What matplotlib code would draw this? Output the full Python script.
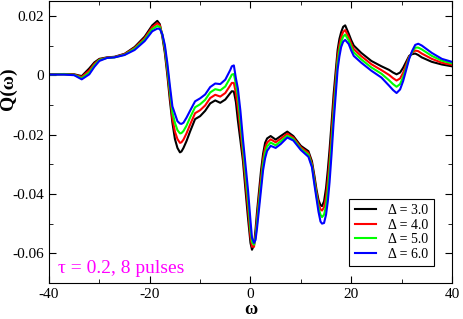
import matplotlib
matplotlib.use("Agg")
from matplotlib import pyplot as plt
from matplotlib.ticker import MultipleLocator, FixedLocator, FixedFormatter

plt.rcParams['font.family'] = ['Liberation Serif', 'DejaVu Serif']
plt.rcParams['axes.unicode_minus'] = False

omega = [-40, -37, -35, -33.5, -32, -31, -30, -28.5, -27, -25,
         -23, -21, -19.5, -18.5, -18, -17.5, -17, -16.5, -16, -15.5,
         -15, -14.5, -14, -13.7, -13.3, -12.7, -12, -11, -10, -9,
         -8, -7, -6, -5, -4, -3.7, -3.3, -2.9, -2.5, -2,
         -1.5, -1, -0.5, 0, 0.3, 0.7, 1, 1.3, 1.7, 2.1,
         2.5, 2.9, 3.3, 4, 5, 6, 7.3, 8.5, 10, 11.5,
         12.2, 12.7, 13.1, 13.5, 13.9, 14.2, 14.6, 15, 15.35, 15.7,
         16.1, 16.5, 16.9, 17.3, 17.65, 18, 18.4, 18.8, 19.5, 20,
         20.5, 22, 24, 26, 27.5, 28.3, 29, 29.7, 30.3, 30.9,
         31.5, 32.1, 32.7, 33.3, 34, 36, 38, 40]

# delta = 3.0 (black)
q_d3 = [0.0003, 0.0004, 0.0003, -0.0003, 0.0023, 0.0043, 0.0055, 0.006, 0.0062, 0.0072,
        0.0095, 0.013, 0.0168, 0.0183, 0.0172, 0.013, 0.0075, 0.0, -0.0085, -0.016,
        -0.0215, -0.0245, -0.026, -0.0257, -0.0245, -0.0222, -0.019, -0.0148, -0.0138, -0.012,
        -0.0095, -0.0085, -0.0093, -0.0082, -0.006, -0.0054, -0.0055, -0.009, -0.0153, -0.022,
        -0.0288, -0.0385, -0.048, -0.0565, -0.0588, -0.0572, -0.052, -0.046, -0.039, -0.032,
        -0.0265, -0.0228, -0.0213, -0.0205, -0.0217, -0.0205, -0.019, -0.0205, -0.0238, -0.0256,
        -0.029, -0.034, -0.0385, -0.042, -0.0438, -0.0441, -0.0425, -0.038, -0.032, -0.025,
        -0.016, -0.0065, 0.001, 0.0085, 0.0122, 0.0145, 0.0163, 0.0168, 0.014, 0.0118,
        0.01, 0.0075, 0.0048, 0.003, 0.0018, 0.0009, 0.0003, 0.0009, 0.0025, 0.0045,
        0.0065, 0.0071, 0.0073, 0.0068, 0.006, 0.0045, 0.0036, 0.003]

# delta = 4.0 (red)
q_d4 = [0.0003, 0.0003, 0.0002, -0.0006, 0.0016, 0.0038, 0.0053, 0.0059, 0.0061, 0.0071,
        0.0092, 0.0125, 0.0162, 0.0175, 0.0168, 0.0136, 0.0085, 0.0013, -0.0068, -0.0145,
        -0.019, -0.0215, -0.0228, -0.0226, -0.0217, -0.0196, -0.0167, -0.0128, -0.0118, -0.0102,
        -0.0077, -0.0066, -0.0072, -0.006, -0.0034, -0.0026, -0.0026, -0.006, -0.011, -0.0185,
        -0.0264, -0.0355, -0.0448, -0.0545, -0.0578, -0.0578, -0.0537, -0.048, -0.041, -0.0345,
        -0.0283, -0.0245, -0.0227, -0.0216, -0.0226, -0.0214, -0.0197, -0.021, -0.0243, -0.0262,
        -0.0298, -0.035, -0.0395, -0.0433, -0.0452, -0.0456, -0.0445, -0.041, -0.0355, -0.0287,
        -0.0195, -0.0098, -0.0018, 0.0063, 0.0102, 0.0128, 0.0146, 0.0152, 0.0128, 0.0106,
        0.0088, 0.0064, 0.0037, 0.0017, 0.0001, -0.001, -0.0018, -0.0011, 0.0008, 0.0035,
        0.0062, 0.0076, 0.0083, 0.0081, 0.0073, 0.0055, 0.0042, 0.0035]

# delta = 5.0 (green)
q_d5 = [0.0002, 0.0003, 0.0001, -0.001, 0.0009, 0.0033, 0.0051, 0.0058, 0.006, 0.0069,
        0.0089, 0.012, 0.0155, 0.0166, 0.0162, 0.0137, 0.0093, 0.0026, -0.0052, -0.0125,
        -0.016, -0.0185, -0.0196, -0.0195, -0.0188, -0.017, -0.0143, -0.0108, -0.0098, -0.0083,
        -0.0058, -0.0047, -0.0051, -0.0038, -0.0008, 0.0002, 0.0004, -0.003, -0.007, -0.0155,
        -0.024, -0.0328, -0.0416, -0.052, -0.0562, -0.0571, -0.0548, -0.05, -0.043, -0.0365,
        -0.03, -0.0262, -0.024, -0.0227, -0.0236, -0.0223, -0.0204, -0.0215, -0.0248, -0.0268,
        -0.0305, -0.036, -0.0405, -0.0446, -0.047, -0.0478, -0.047, -0.044, -0.039, -0.0323,
        -0.023, -0.013, -0.0045, 0.0042, 0.0083, 0.0112, 0.013, 0.0137, 0.0117, 0.0095,
        0.0077, 0.0053, 0.0026, 0.0005, -0.0017, -0.003, -0.0039, -0.003, -0.0006, 0.0025,
        0.0058, 0.0078, 0.0093, 0.0093, 0.0087, 0.0065, 0.0049, 0.004]

# delta = 6.0 (blue)
q_d6 = [0.0002, 0.0002, 0.0, -0.0014, 0.0003, 0.0028, 0.0048, 0.0058, 0.006, 0.0068,
        0.0085, 0.0115, 0.0148, 0.0157, 0.0156, 0.0138, 0.0102, 0.004, -0.0035, -0.0105,
        -0.013, -0.0155, -0.0163, -0.0164, -0.016, -0.0143, -0.012, -0.0088, -0.0078, -0.0065,
        -0.004, -0.0028, -0.003, -0.0015, 0.0018, 0.003, 0.0033, -0.001, -0.0045, -0.012,
        -0.0215, -0.03, -0.0385, -0.049, -0.0548, -0.0565, -0.0555, -0.0515, -0.045, -0.0385,
        -0.032, -0.028, -0.0255, -0.0238, -0.0245, -0.0232, -0.021, -0.022, -0.0252, -0.0275,
        -0.031, -0.037, -0.0415, -0.046, -0.0493, -0.05, -0.0498, -0.047, -0.0425, -0.036,
        -0.0265, -0.016, -0.007, 0.002, 0.0063, 0.0095, 0.0113, 0.0119, 0.0105, 0.0083,
        0.0065, 0.0042, 0.0015, -0.0008, -0.0035, -0.005, -0.006, -0.0048, -0.002, 0.0017,
        0.0055, 0.0082, 0.0102, 0.0106, 0.01, 0.0075, 0.0055, 0.0045]

series = [(q_d3, 'black', 'Δ = 3.0'),
          (q_d4, 'red', 'Δ = 4.0'),
          (q_d5, '#00ff00', 'Δ = 5.0'),
          (q_d6, 'blue', 'Δ = 6.0')]

xticks = [-40, -20, 0, 20, 40]
yticks = [-0.06, -0.04, -0.02, 0, 0.02]
ytick_labels = ['-0.06', '-0.04', '-0.02', '0', '0.02']

fig = plt.figure(figsize=(4.63, 3.19), dpi=100)
ax = fig.add_axes([0.1058, 0.1129, 0.8704, 0.884])

for q, c, lab in series:
    ax.plot(omega, q, color=c, lw=1.5, label=lab)

ax.set_xlim(-40, 40)
ax.set_ylim(-0.07, 0.025)
ax.xaxis.set_major_locator(FixedLocator(xticks))
ax.xaxis.set_minor_locator(MultipleLocator(10))
ax.yaxis.set_major_locator(FixedLocator(yticks))
ax.yaxis.set_major_formatter(FixedFormatter(ytick_labels))
ax.yaxis.set_minor_locator(MultipleLocator(0.01))
ax.tick_params(which='both', direction='in', top=True, right=True, labelsize=11)
ax.tick_params(which='major', length=5)
ax.tick_params(which='minor', length=3)

ax.set_xlabel('ω', fontsize=13, fontweight='bold')
ax.xaxis.set_label_coords(0.5, -0.11)
ax.xaxis.label.set_verticalalignment('baseline')
ax.set_ylabel('Q(ω)', fontsize=14, fontweight='bold')
ax.yaxis.set_label_coords(-0.08, 0.69)

ax.text(0.022, 0.035, 'τ = 0.2, 8 pulses', color='#ff00ff', fontsize=14,
        transform=ax.transAxes, va='baseline', ha='left')

leg = ax.legend(loc='lower right', bbox_to_anchor=(0.955, 0.06), fontsize=10,
                frameon=True, fancybox=False, edgecolor='black', framealpha=1,
                handlelength=1.5, handletextpad=0.9, labelspacing=0.1,
                borderpad=0.4, borderaxespad=0)
leg.get_frame().set_linewidth(0.8)

fig.savefig('out.png', dpi=100)
